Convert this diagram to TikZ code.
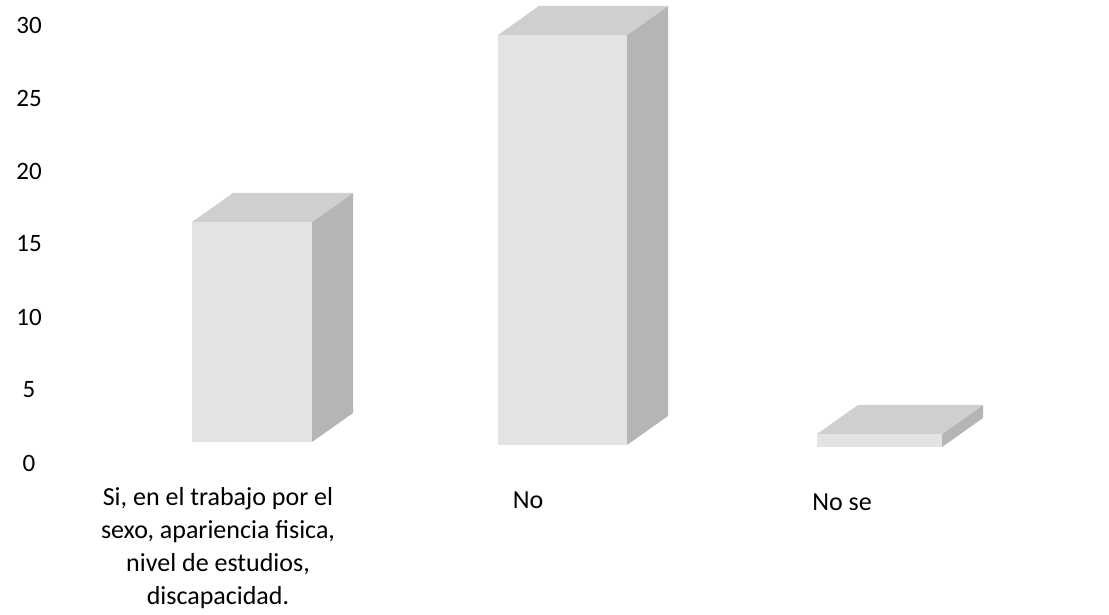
\documentclass[tikz,border=0pt]{standalone}
\usepackage{fontspec}
\setmainfont{Carlito}
\tikzset{
  frente/.style={fill=black!11},
  lado/.style={fill=black!29},
  tapa/.style={fill=black!19},
  tick/.style={font=\fontsize{25}{30}\selectfont},
  etiqueta/.style={font=\fontsize{26}{33}\selectfont, align=center}
}
% depth of the 3D columns
\newcommand{\dx}{41}
\newcommand{\dy}{29}
\newcommand{\columna}[4]{% x left, x right, y bottom, y top
  \fill[frente] (#1,#3) rectangle (#2,#4);
  \fill[lado] (#2,#3) -- (#2+\dx,#3+\dy) -- (#2+\dx,#4+\dy) -- (#2,#4) -- cycle;
  \fill[tapa] (#1,#4) -- (#2,#4) -- (#2+\dx,#4+\dy) -- (#1+\dx,#4+\dy) -- cycle;
}

\begin{document}
\begin{tikzpicture}[x=1pt,y=1pt]
  \useasboundingbox (0,0) rectangle (1109,615);
  % axis values
  \foreach \v [count=\i from 0] in {0,5,...,30}
    \node[tick] (t\v) at (29,152+73*\i) {\v};
  % columns
  \columna{192}{312}{173}{393}
  \columna{498}{627}{170}{580}
  \columna{817}{942}{168}{181}
  % categories
  \node[etiqueta, anchor=north] (si) at (218,131) {Si, en el trabajo por el\\sexo, apariencia fisica,\\nivel de estudios,\\discapacidad.};
  \node[etiqueta, anchor=base] (no) at (528,106) {No};
  \node[etiqueta, anchor=base] (nose) at (842,104) {No se};
\end{tikzpicture}
\end{document}
